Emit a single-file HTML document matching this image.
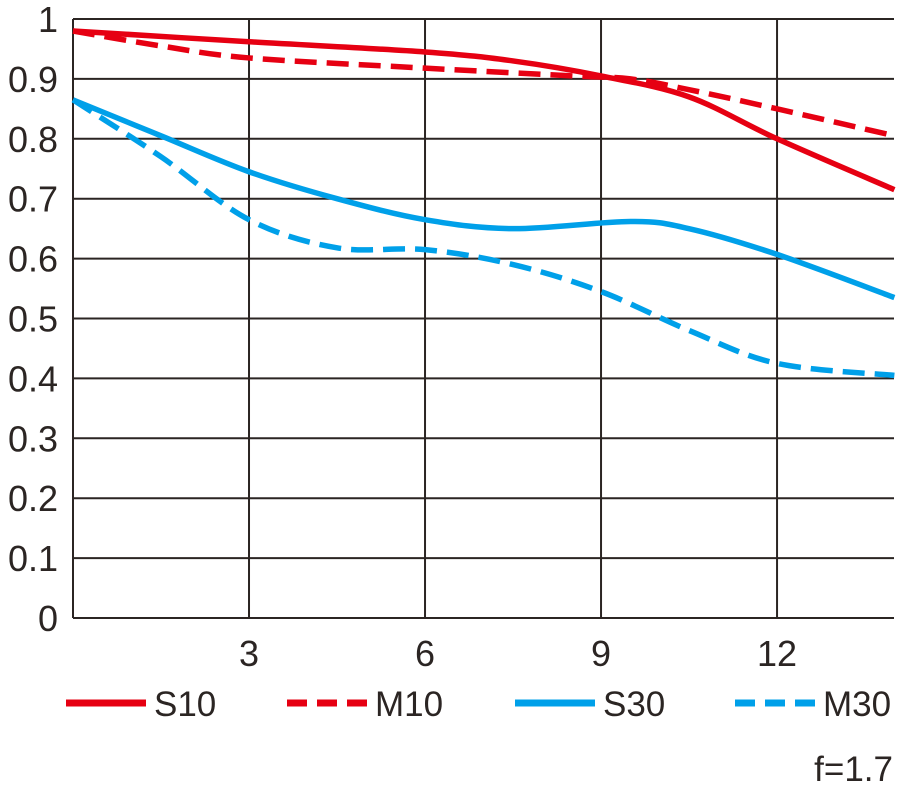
<!DOCTYPE html>
<html><head><meta charset="utf-8"><style>
html,body{margin:0;padding:0;background:#fff;}
svg{display:block;font-family:"Liberation Sans",sans-serif;}
</style></head><body>
<svg id="s" width="904" height="788" viewBox="0 0 904 788" xmlns="http://www.w3.org/2000/svg">
<g stroke="#2b2523" stroke-width="2" fill="none" id="grid"></g>
<g font-size="36" fill="#2b2523" id="lab"></g>
<g id="curves" fill="none" stroke-width="5.5"></g>
<g stroke-width="7">
<line x1="66" y1="703" x2="146" y2="703" stroke="#e60012"/>
<line x1="287" y1="703" x2="367" y2="703" stroke="#e60012" stroke-dasharray="20 10"/>
<line x1="515" y1="703" x2="595" y2="703" stroke="#00a0e9"/>
<line x1="735" y1="703" x2="815" y2="703" stroke="#00a0e9" stroke-dasharray="20 10"/>
</g>
<g font-size="35" fill="#2b2523">
<text x="154" y="716">S10</text>
<text x="375" y="716">M10</text>
<text x="603" y="716">S30</text>
<text x="823" y="716">M30</text>
<text x="893" y="781" text-anchor="end">f=1.7</text>
</g>
</svg>
<script>
var NS="http://www.w3.org/2000/svg";
function X(t){return 73+58.67*t}function Y(v){return 618-599*v}
var g=document.getElementById('grid'),lab=document.getElementById('lab'),c=document.getElementById('curves');
function el(p,tag,a,txt){var e=document.createElementNS(NS,tag);for(var k in a)e.setAttribute(k,a[k]);if(txt!=null)e.textContent=txt;p.appendChild(e);return e}
for(var i=0;i<=10;i++){var y=Y(i/10);el(g,'line',{x1:73,x2:894,y1:y,y2:y});
el(lab,'text',{x:58,y:y+13,'text-anchor':'end'},i==0?'0':i==10?'1':(i/10).toFixed(1));}
el(g,'line',{x1:73,x2:73,y1:Y(1),y2:Y(0)});
[3,6,9,12].forEach(function(t){el(g,'line',{x1:X(t),x2:X(t),y1:Y(1),y2:Y(0)});el(lab,'text',{x:X(t),y:666,'text-anchor':'middle'},t)});
function path(pts){var P=pts.map(function(p){return[X(p[0]),Y(p[1])]});var d='M'+P[0][0]+' '+P[0][1];
for(var i=0;i<P.length-1;i++){var p0=P[i-1]||P[i],p1=P[i],p2=P[i+1],p3=P[i+2]||P[i+1];
d+=' C'+(p1[0]+(p2[0]-p0[0])/6)+' '+(p1[1]+(p2[1]-p0[1])/6)+' '+(p2[0]-(p3[0]-p1[0])/6)+' '+(p2[1]-(p3[1]-p1[1])/6)+' '+p2[0]+' '+p2[1];}return d}
var S=[
[[[0,.98],[3,.962],[6,.945],[7.5,.93],[9,.905],[10.5,.87],[12,.8],[14,.715]],'#e60012',null],
[[[0,.98],[1.5,.955],[3,.935],[6,.918],[8.5,.905],[9.5,.9],[10.5,.882],[12,.85],[14,.805]],'#e60012','22 10'],
[[[0,.865],[1.5,.805],[3,.745],[4.5,.7],[6,.665],[7.5,.65],[9.5,.662],[10.5,.65],[12,.607],[14,.535]],'#00a0e9',null],
[[[0,.865],[1.5,.77],[3,.665],[4.5,.618],[6,.615],[7.5,.59],[9,.545],[10.5,.48],[12,.425],[14,.405]],'#00a0e9','22 10']];
S.forEach(function(s){var a={d:path(s[0]),stroke:s[1]};if(s[2])a['stroke-dasharray']=s[2];el(c,'path',a)});
</script>
</body></html>
